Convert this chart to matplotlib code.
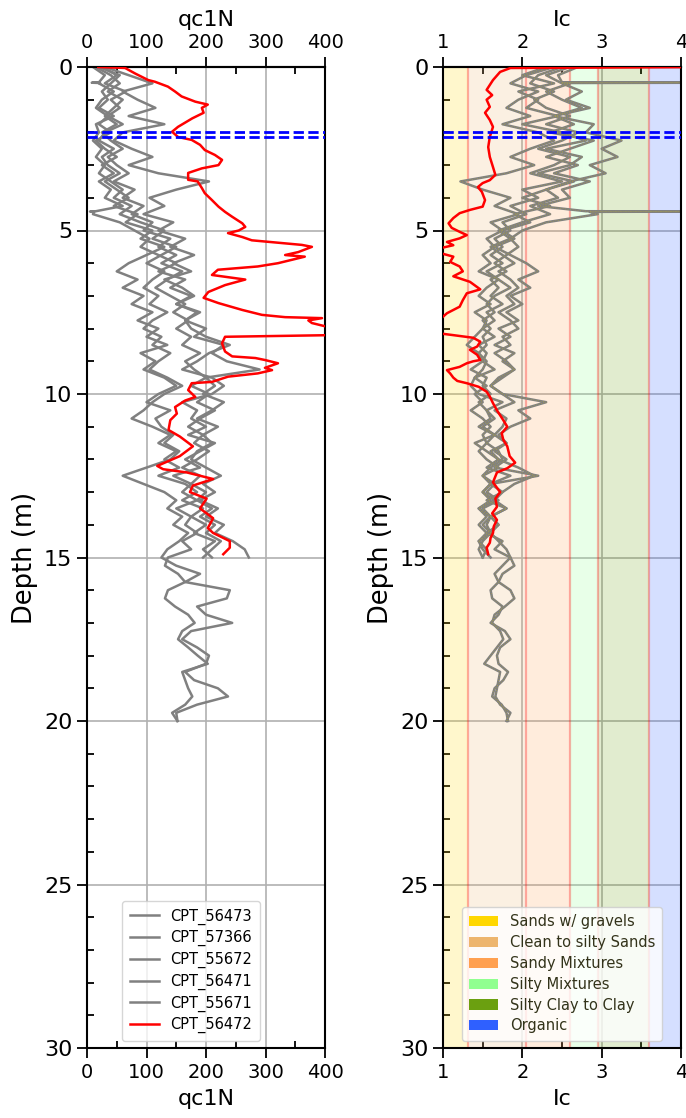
import numpy as np
import matplotlib
matplotlib.use("Agg")
import matplotlib.pyplot as plt
from matplotlib.patches import Patch
from matplotlib.lines import Line2D
from matplotlib.ticker import MultipleLocator

# ---------------------------------------------------------------- data
STEP = 0.25  # sampling interval of the CPT soundings (m)

cpt_names = ["CPT_56473", "CPT_57366", "CPT_55672", "CPT_56471", "CPT_55671"]
cpt_end_depth = [15.0, 20.0, 15.0, 20.0, 15.0]

qc_56473 = [15, 40, 55, 35,  60, 45, 30, 50,  25, 40, 60, 35,  50, 70, 45, 80,
            60, 95, 75, 110,  95, 140, 120, 150,  125, 160, 135, 115,
            140, 165, 145, 170,  150, 175, 160, 190,  165, 180, 200, 175,
            205, 185, 215, 190,  170, 195, 180, 205,  185, 160, 190, 175,
            200, 185, 210, 190,  215, 200, 225, 210,  195]
ic_56473 = [2.5, 2.2, 2.1, 2.4,  2.15, 2.3, 2.6, 2.3,  2.7, 2.5, 2.2, 2.6,
            2.4, 2.1, 2.5, 2.0,  2.2, 1.85, 2.05, 1.75,  1.85, 1.65, 1.75, 1.6,
            1.75, 1.55, 1.7, 1.85,  1.65, 1.55, 1.65, 1.5,  1.6, 1.5, 1.55, 1.45,
            1.55, 1.5, 1.4, 1.55,  1.4, 1.5, 1.35, 1.5,  1.6, 1.5, 1.55, 1.45,
            1.55, 1.7, 1.5, 1.6,  1.5, 1.6, 1.45, 1.55,  1.45, 1.55, 1.45, 1.5,  1.6]

qc_57366 = [25, 50, 30, 65,  40, 55, 35, 60,  30, 20, 45, 25,  35, 55, 30, 50,
            70, 45, 85, 65,  110, 90, 130, 100,  70, 50, 85, 60,  95, 75, 110, 85,
            120, 100, 135, 90,  115, 95, 130, 150,  120, 100, 140, 115,
            125, 145, 130, 155,  140, 100, 60, 95,  130, 150, 135, 160,
            145, 170, 155, 135,  125, 150, 190, 165,  240, 235, 185, 200,
            244, 175, 160, 185,  205, 200, 165, 180,  220, 237, 185, 150,  152]
ic_57366 = [2.3, 2.0, 2.4, 1.95,  2.2, 2.05, 2.45, 2.0,  2.5, 2.8, 2.3, 2.75,
            2.6, 2.2, 2.65, 2.3,  2.0, 2.35, 1.9, 2.1,  1.75, 1.9, 1.65, 1.85,
            2.05, 2.2, 1.95, 2.1,  1.85, 2.0, 1.8, 1.95,  1.7, 1.85, 1.65, 1.9,
            1.75, 1.9, 1.7, 1.6,  1.75, 1.9, 1.65, 1.8,  1.75, 1.65, 1.8, 1.6,
            1.7, 1.95, 2.15, 1.9,  1.75, 1.65, 1.8, 1.6,  1.7, 1.6, 1.7, 1.8,
            1.85, 1.75, 1.65, 1.7,  1.6, 1.62, 1.75, 1.7,  1.6, 1.78, 1.85, 1.72,
            1.68, 1.7, 1.82, 1.76,  1.65, 1.62, 1.74, 1.8,  1.82]

qc_55672 = [10, 30, 20, 45,  25, 15, 35, 20,  40, 15, 30, 50,  25, 45, 20, 40,
            30, 60, 10, 55,  80, 105, 90, 120,  150, 120, 165, 140,
            175, 150, 185, 165,  200, 180, 230, 210,  235, 290, 200, 215,
            195, 230, 210, 185,  220, 195, 210, 185,  175, 200, 225, 195,
            215, 190, 220, 200,  230, 215, 245, 265,  272]
ic_55672 = [2.7, 2.45, 2.6, 2.3,  2.5, 2.75, 2.4, 2.65,  2.35, 2.9, 2.6, 2.3,
            2.7, 2.4, 2.85, 2.5,  2.6, 2.2, 2.95, 2.3,  2.0, 1.85, 1.95, 1.8,
            1.65, 1.8, 1.6, 1.7,  1.6, 1.75, 1.55, 1.65,  1.5, 1.65, 1.45, 1.55,
            1.5, 1.35, 1.55, 1.5,  1.6, 1.45, 1.55, 1.65,  1.5, 1.65, 1.55, 1.7,
            1.75, 1.6, 1.5, 1.65,  1.55, 1.7, 1.5, 1.6,  1.55, 1.6, 1.5, 1.45,  1.5]
# thin spurious readings recorded between the regular samples
extra_depth_55672 = [0.47, 0.48, 0.49, 4.41, 4.42, 4.43]
extra_qc_55672 = [20, 8, 22, 15, 5, 12]
extra_ic_55672 = [2.5, 4.6, 2.5, 2.8, 4.6, 2.85]

qc_56471 = [30, 70, 110, 60,  85, 115, 70, 130,  60, 45, 75, 110,  70, 120, 205, 150,
            105, 130, 95, 145,  120, 165, 140, 180,  145, 175, 130, 160,
            180, 150, 190, 165,  175, 200, 240, 205,  185, 160, 210, 230,
            210, 160, 185, 175,  200, 170, 215, 190,  165, 190, 145, 175,
            160, 185, 150, 175,  165, 185, 160, 175,  136, 131, 153, 165,
            136, 131, 148, 170,  181, 160, 153, 170,  186, 203, 160, 165,
            170, 177, 165, 143,  152]
ic_56471 = [2.4, 2.05, 1.85, 2.2,  1.95, 1.8, 2.1, 1.75,  2.2, 2.4, 2.1, 1.85,
            2.15, 1.8, 1.22, 1.5,  1.85, 1.65, 1.95, 1.6,  1.75, 1.55, 1.65, 1.5,
            1.6, 1.45, 1.7, 1.55,  1.45, 1.6, 1.4, 1.55,  1.5, 1.4, 1.3, 1.45,
            1.5, 1.65, 1.4, 1.35,  1.45, 1.75, 1.55, 1.6,  1.45, 1.65, 1.4, 1.55,
            1.7, 1.55, 1.85, 1.6,  1.75, 1.55, 1.8, 1.6,  1.7, 1.55, 1.75, 1.65,
            1.85, 1.9, 1.75, 1.7,  1.85, 1.9, 1.78, 1.65,  1.62, 1.72, 1.76, 1.68,
            1.6, 1.52, 1.72, 1.7,  1.68, 1.66, 1.72, 1.85,  1.8]

qc_55671 = [20, 55, 40, 25,  35, 20, 45, 15,  20, 10, 25, 15,  30, 20, 40, 60,
            45, 75, 55, 90,  130, 110, 150, 125,  100, 130, 110, 95,
            120, 105, 135, 110,  95, 125, 110, 140,  120, 105, 135, 160,
            130, 110, 95, 75,  110, 140, 120, 150,  130, 155, 120, 165,
            185, 160, 195, 175,  200, 180, 215, 195,  210]
ic_55671 = [2.6, 2.3, 2.5, 2.75,  2.55, 2.85, 2.4, 2.9,  2.8, 3.25, 3.0, 3.2,
            2.85, 3.05, 2.6, 2.3,  2.45, 2.1, 2.35, 2.0,  1.7, 1.85, 1.6, 1.75,
            1.9, 1.7, 1.85, 1.95,  1.8, 1.9, 1.7, 1.85,  1.95, 1.75, 1.85, 1.65,
            1.8, 1.9, 1.75, 1.6,  1.75, 2.3, 1.95, 2.1,  1.85, 1.7, 1.8, 1.65,
            1.8, 1.65, 2.2, 1.6,  1.5, 1.65, 1.45, 1.6,  1.5, 1.6, 1.45, 1.55,  1.5]

# highlighted sounding, irregular depth readings
red_name = "CPT_56472"
red_depth_qc = [0.0, 0.03, 0.2, 0.4, 0.45, 0.6, 0.75, 0.9, 1.06, 1.15, 1.25, 1.4,
                1.57, 1.7, 1.83, 1.98, 2.14, 2.23, 2.38, 2.54, 2.69, 2.84, 3.0,
                3.1, 3.24, 3.45, 3.5, 3.7, 3.86, 4.07, 4.27, 4.43, 4.58, 4.78,
                4.89, 5.0, 5.08, 5.2, 5.3, 5.44, 5.5, 5.66, 5.75, 5.8, 6.0, 6.1,
                6.2, 6.36, 6.5, 6.67, 6.88, 7.06, 7.22, 7.43, 7.58, 7.65, 7.68,
                7.75, 7.83, 7.95, 8.2, 8.25, 8.45, 8.7, 8.85, 8.9, 8.96, 9.06,
                9.2, 9.27, 9.37, 9.47, 9.63, 9.67, 9.88, 10.09, 10.2, 10.4, 10.6,
                10.8, 11.1, 11.3, 11.6, 11.9, 12.2, 12.3, 12.4, 12.6, 12.8, 13.0,
                13.2, 13.5, 13.8, 14.1, 14.25, 14.5, 14.7, 14.9]
red_qc = [19, 64, 81, 103, 114, 136, 148, 159, 182, 203, 193, 196,
          177, 165, 153, 143, 153, 176, 190, 198, 215, 227, 221,
          193, 170, 170, 186, 193, 198, 210, 221, 232, 244, 261,
          266, 255, 237, 261, 277, 361, 378, 355, 333, 366, 321, 287,
          220, 210, 266, 232, 204, 196, 221, 261, 294, 333, 395,
          372, 378, 405, 410, 232, 227, 232, 244, 283, 299, 321,
          299, 311, 287, 237, 210, 176, 170, 182, 165, 148, 151,
          140, 137, 156, 178, 156, 118, 128, 168, 212, 178, 173,
          201, 190, 212, 203, 212, 240, 240, 229]
red_depth_ic = [0.0, 0.03, 0.15, 0.4, 0.55, 0.7, 0.86, 1.0, 1.22, 1.4, 1.62, 1.83,
                2.14, 2.45, 2.75, 3.06, 3.3, 3.46, 3.55, 3.67, 3.82, 4.07, 4.27,
                4.37, 4.47, 4.62, 4.78, 4.92, 5.04, 5.14, 5.24, 5.35, 5.45, 5.55,
                5.7, 5.8, 5.96, 6.1, 6.25, 6.4, 6.57, 6.8, 6.92, 7.13, 7.33, 7.53,
                7.68, 7.9, 8.15, 8.2, 8.28, 8.4, 8.55, 8.65, 8.8, 8.96, 9.0, 9.06,
                9.17, 9.27, 9.37, 9.5, 9.6, 9.67, 9.78, 9.93, 10.08, 10.28, 10.5,
                10.8, 11.0, 11.2, 11.4, 11.6, 11.9, 12.1, 12.27, 12.4, 12.7, 13.0,
                13.2, 13.45, 13.65, 13.85, 14.05, 14.25, 14.4, 14.55, 14.7, 14.9]
red_ic = [4.5, 1.85, 1.72, 1.63, 1.59, 1.55, 1.62, 1.55, 1.59, 1.53, 1.59, 1.63,
          1.59, 1.57, 1.59, 1.63, 1.66, 1.59, 1.5, 1.44, 1.49, 1.53, 1.5,
          1.34, 1.21, 1.13, 1.07, 1.11, 1.21, 1.3, 1.21, 1.05, 1.13, 0.95,
          0.98, 1.13, 1.09, 1.21, 1.25, 1.13, 1.34, 1.47, 1.3, 1.25, 1.21, 1.05,
          0.98, 0.85, 0.97, 1.13, 1.38, 1.47, 1.43, 1.34, 1.43, 1.47, 1.38, 1.3,
          1.21, 1.05, 1.09, 1.13, 1.18, 1.3, 1.45, 1.55, 1.59, 1.63, 1.68,
          1.76, 1.81, 1.74, 1.76, 1.81, 1.84, 1.91, 1.81, 1.68, 1.63, 1.72,
          1.66, 1.68, 1.62, 1.68, 1.64, 1.63, 1.6, 1.59, 1.55, 1.57]

# soil behaviour type zones (Robertson Ic boundaries)
zone_bounds = [1.0, 1.31, 2.05, 2.6, 2.95, 3.6, 4.0]
zone_names = ["Sands w/ gravels", "Clean to silty Sands", "Sandy Mixtures",
              "Silty Mixtures", "Silty Clay to Clay", "Organic"]
zone_colors = ["#FFD700", "#EDB56E", "#FFA050", "#90FF90", "#6BA010", "#2F60FF"]

# depth interval of interest
marker_depths = [2.0, 2.15]

# ---------------------------------------------------------------- assemble
qc_series = [qc_56473, qc_57366, qc_55672, qc_56471, qc_55671]
ic_series = [ic_56473, ic_57366, ic_55672, ic_56471, ic_55671]

profiles = []
for name, end, qc, ic in zip(cpt_names, cpt_end_depth, qc_series, ic_series):
    d = np.arange(0.0, end + STEP / 2, STEP)
    qc = np.asarray(qc, float)
    ic = np.asarray(ic, float)
    if name == "CPT_55672":
        d = np.concatenate([d, extra_depth_55672])
        qc = np.concatenate([qc, extra_qc_55672])
        ic = np.concatenate([ic, extra_ic_55672])
        order = np.argsort(d, kind="stable")
        d, qc, ic = d[order], qc[order], ic[order]
    profiles.append((name, d, qc, ic))

# ---------------------------------------------------------------- figure
W, H = 686, 1118
fig = plt.figure(figsize=(W / 100, H / 100), dpi=100)
ax_l = fig.add_axes([87 / W, 1 - 1048 / H, 238 / W, 981 / H])
ax_r = fig.add_axes([443 / W, 1 - 1048 / H, 238 / W, 981 / H])

GRAY = "#808080"
XTICK_FS = 14
YTICK_FS = 16
XLABEL_FS = 16
YLABEL_FS = 18.5
LW_GRAY = 1.8


def style_axis(ax, xlim, major, minor, label):
    ax.set_xlim(*xlim)
    ax.set_ylim(30, 0)
    ax.xaxis.set_major_locator(MultipleLocator(major))
    ax.xaxis.set_minor_locator(MultipleLocator(minor))
    ax.yaxis.set_major_locator(MultipleLocator(5))
    ax.yaxis.set_minor_locator(MultipleLocator(1))
    ax.tick_params(which="major", direction="out", length=7, width=1.3,
                   right=False, top=False)
    ax.tick_params(which="minor", direction="in", length=5, width=1.3,
                   right=False, top=False)
    ax.tick_params(axis="x", labelsize=XTICK_FS)
    ax.tick_params(axis="y", labelsize=YTICK_FS)
    ax.set_axisbelow(True)
    ax.grid(True, which="major", color="#b0b0b0", lw=1.2)
    for s in ax.spines.values():
        s.set_linewidth(1.5)
    ax.set_xlabel(label, fontsize=XLABEL_FS, labelpad=5)
    ax.set_ylabel("Depth (m)", fontsize=YLABEL_FS, labelpad=4)

    sec = ax.secondary_xaxis("top")
    sec.xaxis.set_major_locator(MultipleLocator(major))
    sec.xaxis.set_minor_locator(MultipleLocator(minor))
    sec.tick_params(which="major", direction="out", length=7, width=1.3,
                    labelsize=XTICK_FS)
    sec.tick_params(which="minor", direction="in", length=5, width=1.3)
    sec.spines["top"].set_linewidth(1.5)
    sec.set_xlabel(label, fontsize=XLABEL_FS, labelpad=5)


# --- left panel: normalised cone resistance
for name, d, qc, ic in profiles:
    ax_l.plot(qc, d, color=GRAY, lw=LW_GRAY, zorder=2)
ax_l.plot(red_qc, red_depth_qc, color="red", lw=1.8, zorder=3)
for md in marker_depths:
    ax_l.axhline(md, color="blue", ls="--", lw=2.0, zorder=5)
style_axis(ax_l, (0, 400), 100, 50, "qc1N")

handles = [Line2D([], [], color=GRAY, lw=LW_GRAY, label=n) for n in cpt_names]
handles.append(Line2D([], [], color="red", lw=1.8, label=red_name))
ax_l.legend(handles=handles, loc="lower center", bbox_to_anchor=(0.437, 0.0),
            fontsize=10.5, handlelength=2.0, borderpad=0.5, labelspacing=0.38)

# --- right panel: soil behaviour type index
for lo, hi, c in zip(zone_bounds[:-1], zone_bounds[1:], zone_colors):
    ax_r.axvspan(lo, hi, color=c, alpha=0.2, lw=0, zorder=1)
for b in zone_bounds[1:-1]:
    ax_r.axvline(b, color="red", alpha=0.3, lw=1.6, zorder=1.5)
for name, d, qc, ic in profiles:
    ax_r.plot(ic, d, color=GRAY, lw=LW_GRAY, zorder=2)
    ax_r.plot(ic, d, color="#b4a83a", lw=0.6, ls=(0, (1, 2)), alpha=0.7, zorder=2.1)
ax_r.plot(red_ic, red_depth_ic, color="red", lw=1.8, zorder=3)
for md in marker_depths:
    ax_r.axhline(md, color="blue", ls="--", lw=2.0, zorder=5)
style_axis(ax_r, (1, 4), 1, 0.5, "Ic")

zone_handles = [Patch(facecolor=c, edgecolor="none", label=n)
                for n, c in zip(zone_names, zone_colors)]
ax_r.legend(handles=zone_handles, loc="lower center", fontsize=10.5,
            handlelength=2.0, borderpad=0.5, labelspacing=0.4,
            labelcolor="#33331a")

fig.savefig("out.png", dpi=100)
